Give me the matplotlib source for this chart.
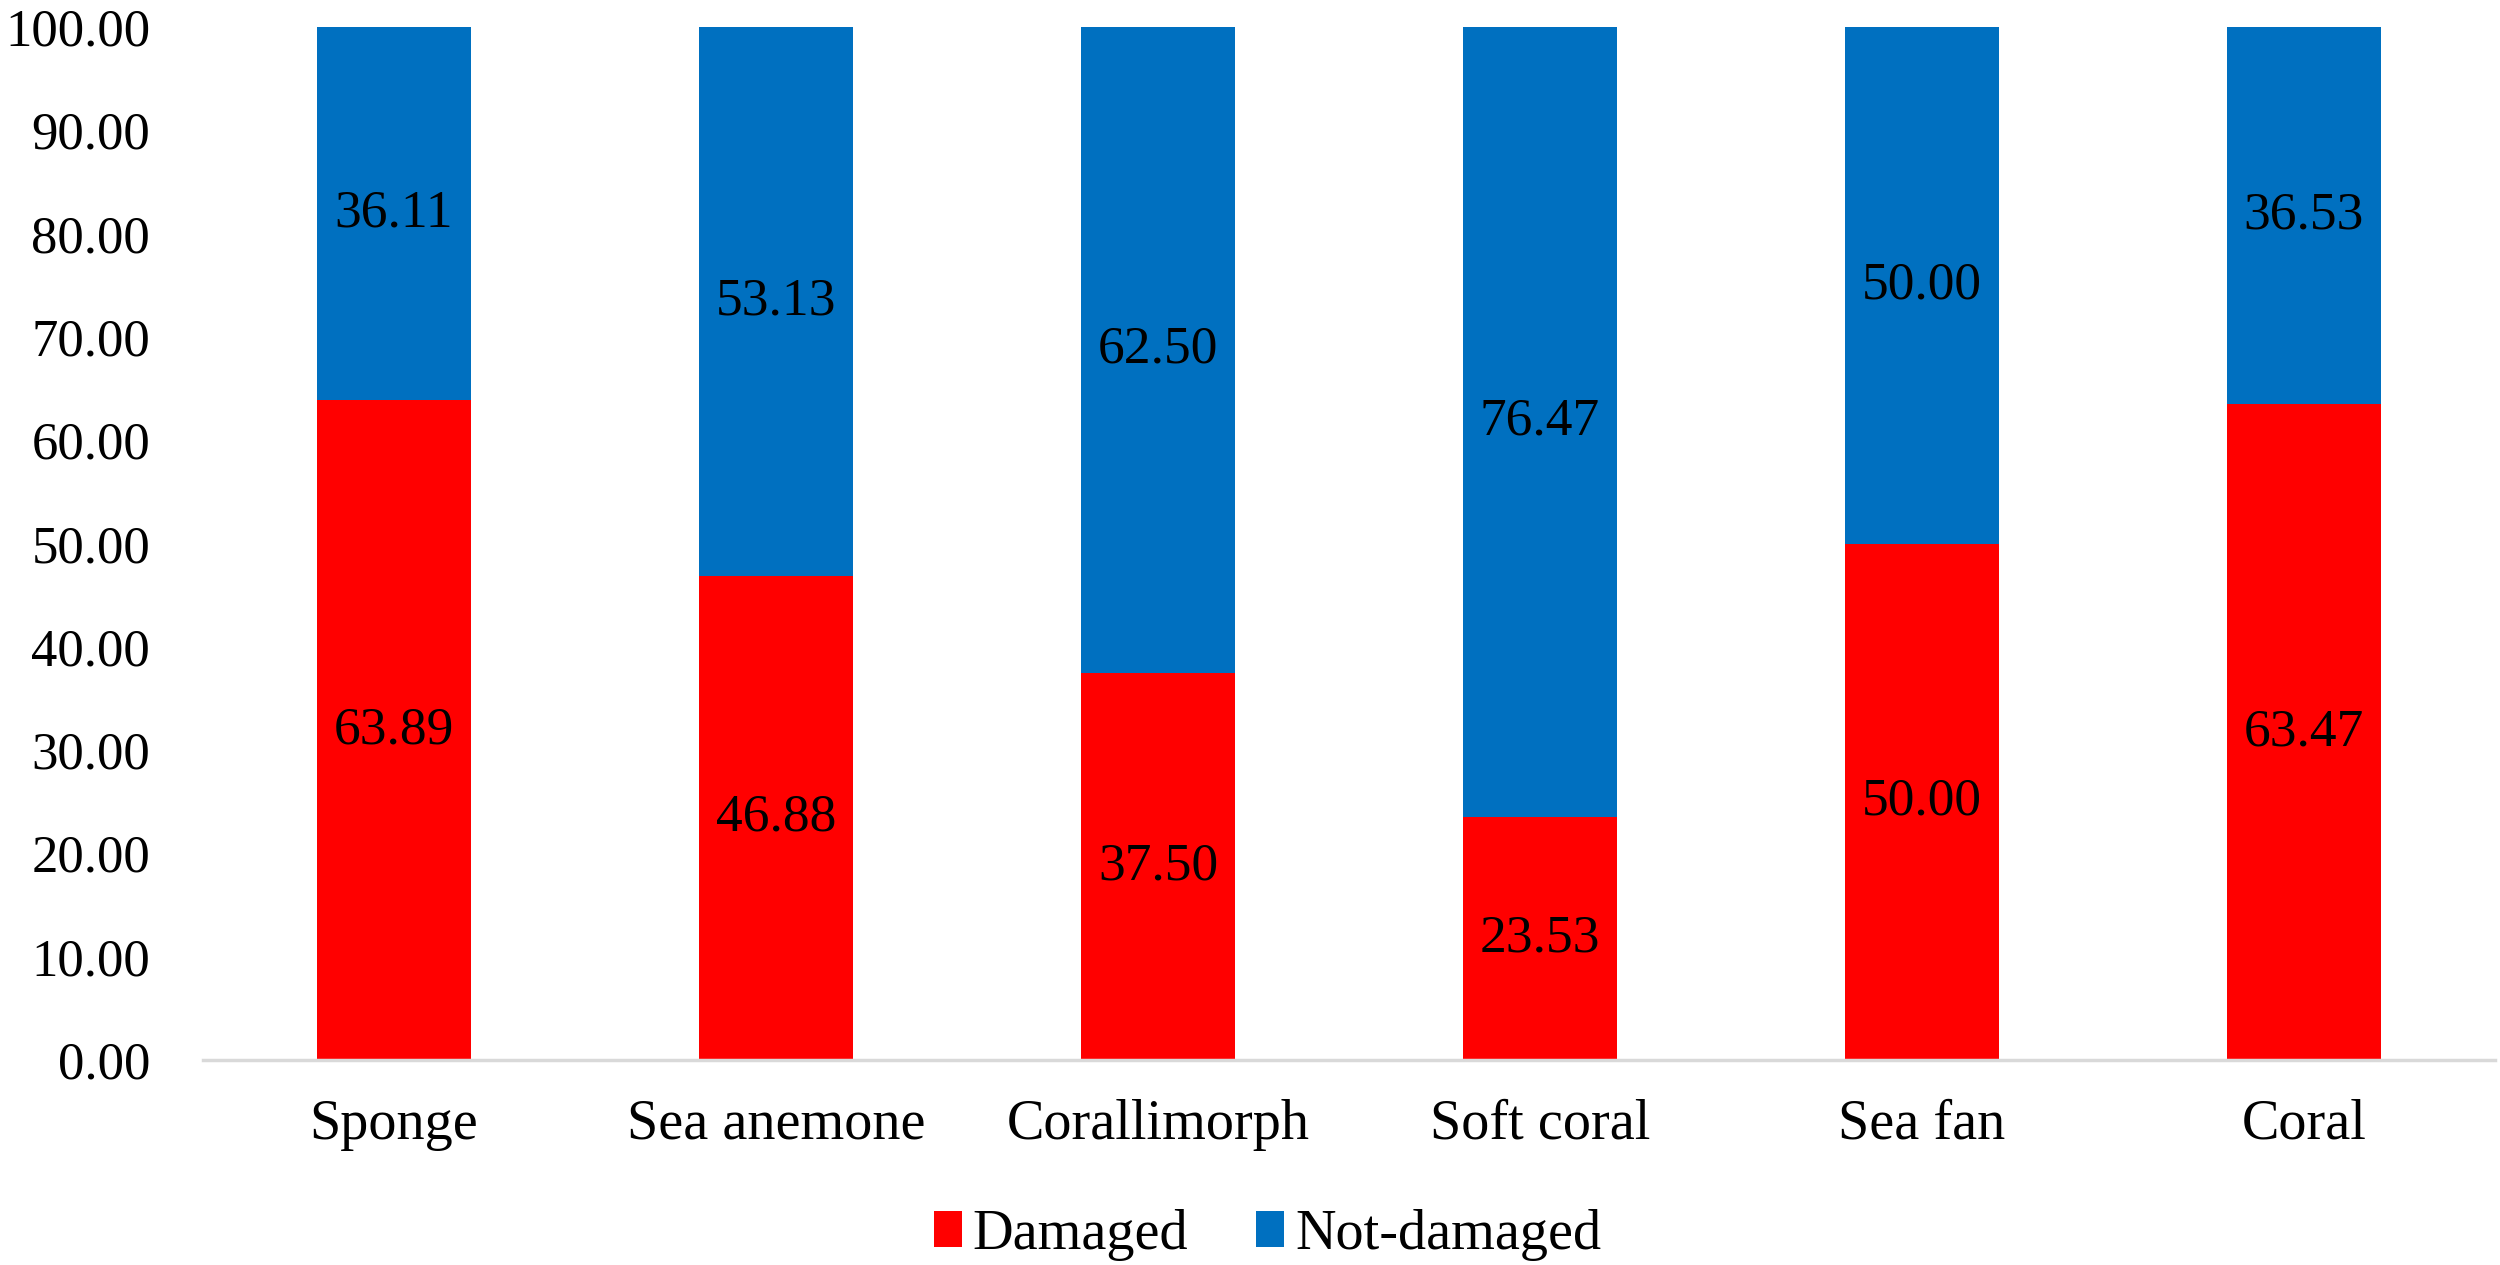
import matplotlib.pyplot as plt
import numpy as np

categories = ['Sponge', 'Sea anemone', 'Corallimorph', 'Soft coral', 'Sea fan', 'Coral']
damaged = [63.89, 46.88, 37.50, 23.53, 50.00, 63.47]
not_damaged = [36.11, 53.13, 62.50, 76.47, 50.00, 36.53]
y_ticks = [0, 10, 20, 30, 40, 50, 60, 70, 80, 90, 100]

plt.rcParams['font.family'] = ['Liberation Serif', 'DejaVu Serif']

figure = plt.figure(figsize=(25, 12.65), dpi=100)
axes = figure.add_axes([0.0812, 0.162, 0.9168, 0.8167])

x = np.arange(len(categories))
width = 0.403
bars_d = axes.bar(x, damaged, width, color='#FF0000', label='Damaged')
bars_n = axes.bar(x, not_damaged, width, bottom=damaged, color='#0070C0', label='Not-damaged')

axes.bar_label(bars_d, labels=['%.2f' % v for v in damaged], label_type='center', fontsize=38.5)
axes.bar_label(bars_n, labels=['%.2f' % v for v in not_damaged], label_type='center', fontsize=38.5)

axes.set_xlim(-0.5, len(categories) - 0.5)
axes.set_ylim(0, 100)
axes.set_yticks(y_ticks)
axes.set_yticklabels(['%.2f' % v for v in y_ticks])
axes.set_xticks(x)
axes.set_xticklabels(categories)
axes.tick_params(axis='y', length=0, pad=38, labelsize=38)
axes.tick_params(axis='x', length=0, pad=28, labelsize=40.5)

for side in ['top', 'right', 'left']:
    axes.spines[side].set_visible(False)
axes.spines['bottom'].set_color('#d9d9d9')
axes.spines['bottom'].set_linewidth(2.5)

figure.legend(loc='center', bbox_to_anchor=(0.507, 0.024), ncol=2, frameon=False,
              fontsize=40.5, handlelength=0.5, handleheight=0.6,
              handletextpad=0.2, columnspacing=1.2)

figure.savefig('out.png', format='png')
